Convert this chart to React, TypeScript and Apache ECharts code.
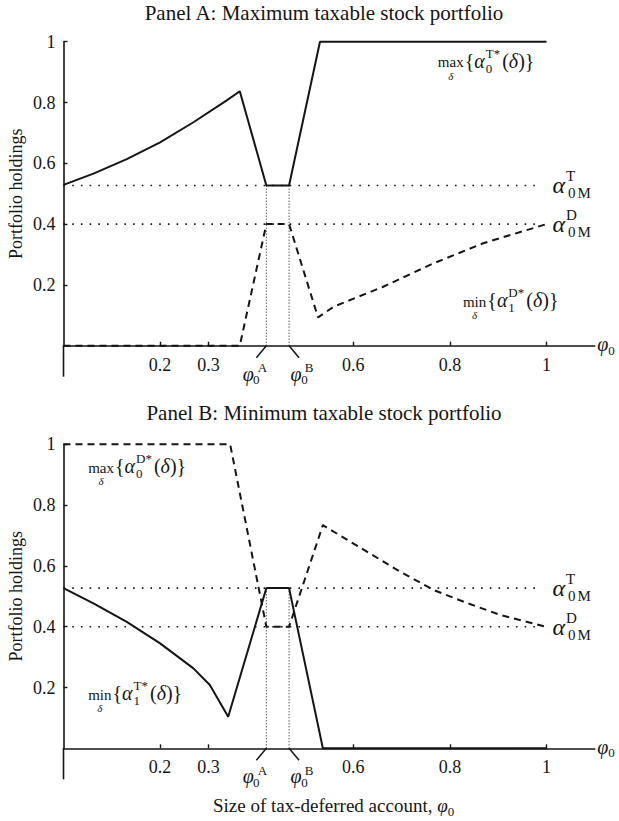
import React, { useEffect, useRef } from 'react';
import * as echarts from 'echarts';

// ---------- data ----------
const xTicks = [0.2, 0.3, 0.6, 0.8, 1];
const yTicks = [0.2, 0.4, 0.6, 0.8, 1];

const alphaT = 0.527; // alpha^T_{0M}
const alphaD = 0.4; // alpha^D_{0M}
const phiA = 0.42;
const phiB = 0.467;

// Panel A
const aMaxT: [number, number][] = [
  [0, 0.529], [0.062, 0.566], [0.131, 0.614], [0.2, 0.669], [0.269, 0.735],
  [0.338, 0.807], [0.365, 0.837], [0.42, 0.527], [0.467, 0.527], [0.531, 1], [1, 1],
];
const aMinD: [number, number][] = [
  [0, 0], [0.365, 0], [0.42, 0.4], [0.467, 0.4], [0.527, 0.093], [0.559, 0.128],
  [0.662, 0.194], [0.766, 0.271], [0.869, 0.337], [1, 0.4],
];
// Panel B
const bMaxD: [number, number][] = [
  [0, 1], [0.345, 1], [0.42, 0.4], [0.467, 0.4], [0.537, 0.734], [0.628, 0.647],
  [0.697, 0.581], [0.766, 0.521], [0.835, 0.478], [0.904, 0.439], [1, 0.399],
];
const bMinT: [number, number][] = [
  [0, 0.527], [0.062, 0.477], [0.131, 0.416], [0.2, 0.345], [0.269, 0.263],
  [0.303, 0.208], [0.341, 0.104], [0.42, 0.527], [0.467, 0.527], [0.537, 0], [1, 0],
];

const titles = ['Panel A: Maximum taxable stock portfolio', 'Panel B: Minimum taxable stock portfolio'];
const yName = 'Portfolio holdings';
const xName = 'Size of tax-deferred account, ';

// ---------- styling ----------
const FONT = 'Liberation Serif, DejaVu Serif, serif';
const INK = '#151515';

const GRID_LEFT = 63.5;
const UNIT_X = 483;
const UNIT_Y = 304;
const X_MAX = 1.1;
const GRID_TOPS = [41.7, 444.3];

let ctx: CanvasRenderingContext2D | null = null;
function tw(text: string, size: number, italic: boolean): number {
  if (!ctx) ctx = document.createElement('canvas').getContext('2d');
  ctx!.font = `${italic ? 'italic ' : ''}${size}px ${FONT}`;
  return ctx!.measureText(text).width;
}

type Tok = { t: string; s: number; it?: boolean; dy?: number; dx?: number; adv?: boolean; under?: string };

function txt(x: number, y: number, text: string, size: number, opts: any = {}) {
  return {
    type: 'text',
    x,
    y,
    rotation: opts.rotation || 0,
    silent: true,
    z: 100,
    style: {
      text,
      fontSize: size,
      fontFamily: FONT,
      fontStyle: opts.italic ? 'italic' : 'normal',
      fill: INK,
      align: opts.align || 'left',
      verticalAlign: 'middle',
    },
  };
}

// baseline-based composition of math-like labels
function mathText(x0: number, base: number, toks: Tok[]): any[] {
  let x = x0;
  const out: any[] = [];
  for (const k of toks) {
    const w = tw(k.t, k.s, !!k.it);
    const xx = x + (k.dx || 0);
    out.push(txt(xx, base + (k.dy || 0) - 0.34 * k.s, k.t, k.s, { italic: k.it }));
    if (k.under) out.push(txt(xx + w / 2, base + 8, k.under, 11, { italic: true, align: 'center' }));
    if (k.adv !== false) x = xx + w;
  }
  return out;
}

function bracketLabel(op: string, sub: string, sup: string): Tok[] {
  return [
    { t: op, s: 15, under: 'δ' },
    { t: '{', s: 20, dx: 1 },
    { t: 'α', s: 20, it: true },
    { t: sub, s: 13, dy: 5, adv: false, dx: 1 },
    { t: sup, s: 13, dy: -10, dx: 1 },
    { t: '(', s: 20, dx: 2 },
    { t: 'δ', s: 20, it: true },
    { t: ')}', s: 20 },
  ];
}

function alphaM(sup: string): Tok[] {
  return [
    { t: 'α', s: 24, it: true },
    { t: sup, s: 15, dy: -12, adv: false, dx: 1 },
    { t: '0', s: 15, dy: 5, dx: 3 },
    { t: 'M', s: 15, dy: 5, dx: 2 },
  ];
}

const solid = { color: INK, width: 2, type: 'solid' };
const dashed = { color: INK, width: 2, type: [7, 5] };
const dotted = { color: INK, width: 1.6, type: [1.6, 7.1] };
const fine = { color: INK, width: 1, type: [1, 2] };

function line(gi: number, data: [number, number][], style: any, z: number) {
  return {
    type: 'line',
    xAxisIndex: gi,
    yAxisIndex: gi,
    data,
    symbol: 'none',
    silent: true,
    clip: false,
    lineStyle: style,
    z,
  };
}

function panelSeries(gi: number, solidData: [number, number][], dashData: [number, number][]) {
  return [
    line(gi, [[0, alphaT], [0.98, alphaT]], dotted, 2),
    line(gi, [[0, alphaD], [0.98, alphaD]], dotted, 2),
    line(gi, [[phiA, 0], [phiA, alphaT]], fine, 2),
    line(gi, [[phiB, 0], [phiB, alphaT]], fine, 2),
    line(gi, dashData, dashed, 3),
    line(gi, solidData, solid, 4),
  ];
}

function xAx(gi: number) {
  return {
    type: 'value',
    gridIndex: gi,
    min: 0,
    max: X_MAX,
    axisLine: { show: true, onZero: false, lineStyle: { color: INK, width: 1.6 } },
    axisTick: { show: true, inside: true, length: 4, customValues: xTicks, lineStyle: { color: INK, width: 1.4 } },
    axisLabel: {
      customValues: xTicks,
      formatter: (v: number) => String(v),
      margin: 10,
      fontSize: 18,
      fontFamily: FONT,
      color: INK,
    },
    splitLine: { show: false },
  };
}

function yAx(gi: number) {
  return {
    type: 'value',
    gridIndex: gi,
    min: 0,
    max: 1,
    axisLine: { show: true, onZero: false, lineStyle: { color: INK, width: 1.6 } },
    axisTick: { show: true, inside: true, length: 4, customValues: yTicks, lineStyle: { color: INK, width: 1.4 } },
    axisLabel: {
      customValues: yTicks,
      formatter: (v: number) => String(v),
      margin: 8,
      fontSize: 18,
      fontFamily: FONT,
      color: INK,
    },
    splitLine: { show: false },
  };
}

// label anchors (data coordinates)
const labelAnchors = [
  { solid: [0.775, 0.915], solidTok: bracketLabel('max', '0', 'T*'), dash: [0.827, 0.127], dashTok: bracketLabel('min', '1', 'D*') },
  { solid: [0.051, 0.159], solidTok: bracketLabel('min', '1', 'T*'), dash: [0.051, 0.906], dashTok: bracketLabel('max', '0', 'D*') },
];

function buildGraphics(chart: any) {
  const els: any[] = [];
  const px = (gi: number, x: number, y: number) => chart.convertToPixel({ gridIndex: gi }, [x, y]) as number[];
  const titleY = [12.7, 413.2];
  [0, 1].forEach((gi) => {
    els.push(txt(324, titleY[gi], titles[gi], 21, { align: 'center' }));
    const mid = px(gi, 0, 0.5);
    els.push(txt(16, mid[1], yName, 18, { align: 'center', rotation: Math.PI / 2 }));

    // y-axis line continues below the x axis
    const o = px(gi, 0, 0);
    els.push({ type: 'line', silent: true, z: 100, shape: { x1: o[0], y1: o[1], x2: o[0], y2: o[1] + 31 }, style: { stroke: INK, lineWidth: 1.6 } });

    // phi markers
    const pa = px(gi, phiA, 0);
    const pb = px(gi, phiB, 0);
    els.push({ type: 'line', silent: true, z: 100, shape: { x1: pa[0], y1: pa[1], x2: pa[0] - 10, y2: pa[1] + 12 }, style: { stroke: INK, lineWidth: 1.5 } });
    els.push({ type: 'line', silent: true, z: 100, shape: { x1: pb[0], y1: pb[1], x2: pb[0] + 10, y2: pb[1] + 12 }, style: { stroke: INK, lineWidth: 1.5 } });
    els.push(txt(pa[0] - 18, pa[1] + 28, 'φ', 20, { italic: true, align: 'center' }));
    els.push(txt(pa[0] - 10, pa[1] + 34, '0', 13, { align: 'center' }));
    els.push(txt(pa[0] - 4, pa[1] + 22, 'A', 13, { align: 'center' }));
    els.push(txt(pb[0] + 7, pb[1] + 28, 'φ', 20, { italic: true, align: 'center' }));
    els.push(txt(pb[0] + 15.5, pb[1] + 34, '0', 13, { align: 'center' }));
    els.push(txt(pb[0] + 20, pb[1] + 22, 'B', 13, { align: 'center' }));

    // axis end phi_0
    const end = px(gi, X_MAX, 0);
    els.push(...mathText(end[0] + 2.5, end[1] + 5, [{ t: 'φ', s: 20, it: true }, { t: '0', s: 13, dy: 4 }]));

    // alpha_M labels
    const at = px(gi, 1, alphaT);
    const ad = px(gi, 1, alphaD);
    els.push(...mathText(at[0] + 6, at[1] + 8, alphaM('T')));
    els.push(...mathText(ad[0] + 6, ad[1] + 8, alphaM('D')));

    // curve labels
    const la = labelAnchors[gi];
    const s = px(gi, la.solid[0], la.solid[1]);
    const d = px(gi, la.dash[0], la.dash[1]);
    els.push(...mathText(s[0], s[1], la.solidTok));
    els.push(...mathText(d[0], d[1], la.dashTok));
  });
  // x axis title
  els.push(
    ...mathText(213, 812, [
      { t: xName, s: 19 },
      { t: 'φ', s: 19, it: true },
      { t: '0', s: 13, dy: 4 },
    ]),
  );
  return els;
}

export default function App() {
  const ref = useRef<HTMLDivElement>(null);
  useEffect(() => {
    const chart = echarts.init(ref.current!, null, { renderer: 'svg' });
    chart.setOption({
      animation: false,
      backgroundColor: '#ffffff',
      grid: GRID_TOPS.map((top) => ({ left: GRID_LEFT, top, width: X_MAX * UNIT_X, height: UNIT_Y, containLabel: false })),
      xAxis: [xAx(0), xAx(1)],
      yAxis: [yAx(0), yAx(1)],
      series: [...panelSeries(0, aMaxT, aMinD), ...panelSeries(1, bMinT, bMaxD)],
    });
    chart.setOption({ graphic: { elements: buildGraphics(chart) } });
    return () => chart.dispose();
  }, []);
  return <div ref={ref} style={{ position: 'absolute', left: 0, top: 0, width: 619, height: 821 }} />;
}
